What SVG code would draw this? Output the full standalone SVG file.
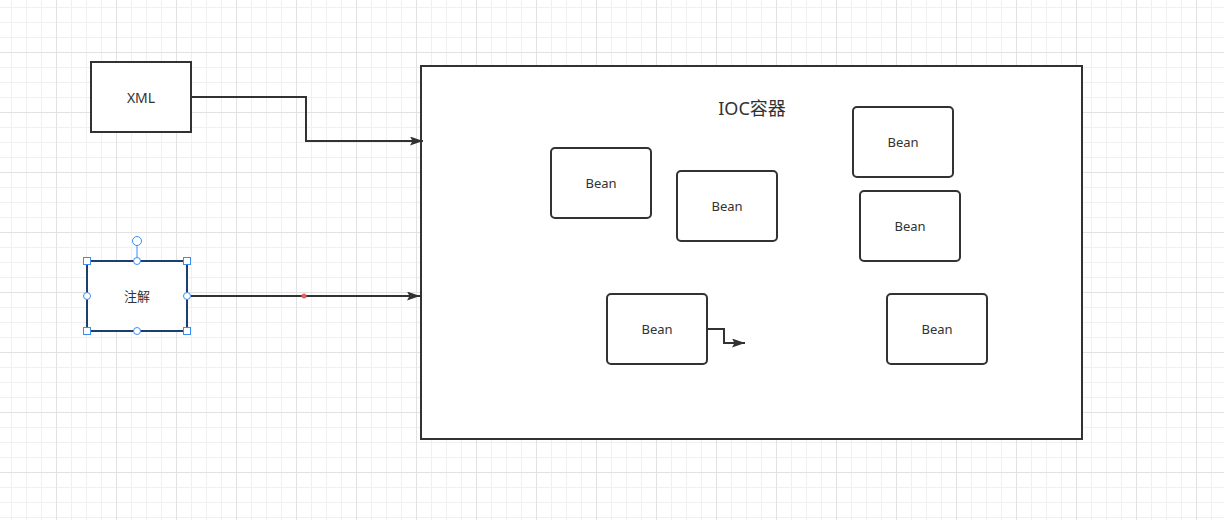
<svg xmlns="http://www.w3.org/2000/svg" width="1224" height="520" viewBox="0 0 1224 520">
<defs>
<pattern id="grid" x="56" y="52" width="60" height="60" patternUnits="userSpaceOnUse">
<path d="M15.5 0V60M30.5 0V60M45.5 0V60M0 15.5H60M0 30.5H60M0 45.5H60" stroke="#f0f0f0" stroke-width="1" fill="none"/>
<path d="M0.5 0V60M0 0.5H60" stroke="#e2e2e2" stroke-width="1" fill="none"/>
</pattern>
<marker id="arr" viewBox="0 0 13 9" refX="13" refY="4.5" markerWidth="13" markerHeight="9" markerUnits="userSpaceOnUse" orient="auto">
<path d="M0 0L13 4.5L0 9L2.5 4.5Z" fill="#323232"/>
</marker>
<style>
.box{fill:#fff;stroke:#323232;stroke-width:2}
.bean{fill:#fff;stroke:#323232;stroke-width:2}
.t{font-family:"Noto Sans","Noto Sans CJK SC",sans-serif;fill:#323232;text-anchor:middle;dominant-baseline:central}
.edge{fill:none;stroke:#323232;stroke-width:2}
.h{fill:#fff;stroke:#3b8ef0;stroke-width:1}
</style>
</defs>
<rect width="1224" height="520" fill="#fff"/>
<rect width="1224" height="520" fill="url(#grid)"/>

<g id="ioc">
<rect class="box" x="421" y="66" width="661" height="373"/>
<text class="t" x="752" y="108" font-size="18">IOC容器</text>
</g>

<g id="xml">
<rect class="box" x="91" y="62" width="100" height="70"/>
<text class="t" x="141" y="97" font-size="14">XML</text>
</g>

<g id="annotation">
<rect x="87" y="261" width="100" height="70" fill="#fff" stroke="#1d3f6e" stroke-width="2"/>
<text class="t" x="137" y="296" font-size="13">注解</text>
<line x1="137" y1="245" x2="137" y2="261" stroke="#3b8ef0" stroke-width="1"/>
<circle class="h" cx="137" cy="241" r="4.5"/>
<rect class="h" x="83.5" y="257.5" width="7" height="7"/>
<rect class="h" x="183.5" y="257.5" width="7" height="7"/>
<rect class="h" x="83.5" y="327.5" width="7" height="7"/>
<rect class="h" x="183.5" y="327.5" width="7" height="7"/>
<circle class="h" cx="137" cy="261" r="3.5"/>
<circle class="h" cx="137" cy="331" r="3.5"/>
<circle class="h" cx="87" cy="296" r="3.5"/>
<circle class="h" cx="187" cy="296" r="3.5"/>
</g>

<g id="bean1"><rect class="bean" x="551" y="148" width="100" height="70" rx="4"/><text class="t" x="601" y="183" font-size="13">Bean</text></g>
<g id="bean2"><rect class="bean" x="677" y="171" width="100" height="70" rx="4"/><text class="t" x="727" y="206" font-size="13">Bean</text></g>
<g id="bean3"><rect class="bean" x="853" y="107" width="100" height="70" rx="4"/><text class="t" x="903" y="142" font-size="13">Bean</text></g>
<g id="bean4"><rect class="bean" x="860" y="191" width="100" height="70" rx="4"/><text class="t" x="910" y="226" font-size="13">Bean</text></g>
<g id="bean5"><rect class="bean" x="607" y="294" width="100" height="70" rx="4"/><text class="t" x="657" y="329" font-size="13">Bean</text></g>
<g id="bean6"><rect class="bean" x="887" y="294" width="100" height="70" rx="4"/><text class="t" x="937" y="329" font-size="13">Bean</text></g>

<g id="connectors">
<path class="edge" d="M191 97H306V141H423" marker-end="url(#arr)"/>
<path class="edge" d="M191 296H420" marker-end="url(#arr)"/>
<circle cx="304" cy="296" r="2.5" fill="#e86060"/>
<path class="edge" d="M708 329H724V343H745" marker-end="url(#arr)"/>
</g>
</svg>
